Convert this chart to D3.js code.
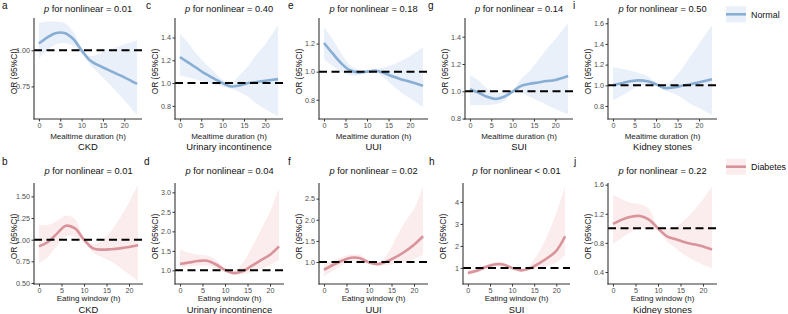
<!DOCTYPE html>
<html><head><meta charset="utf-8">
<script src="https://cdn.jsdelivr.net/npm/d3@7/dist/d3.min.js"></script>
<style>
html,body{margin:0;padding:0;background:#fff;}
svg{display:block;font-family:"Liberation Sans",Arial,sans-serif;}
</style></head>
<body><svg id="chart" width="788" height="314"></svg>
<script>
// ---------- data ----------
const xTop = [0,2,4,6,8,10,12,14,16,18,20,23];
const xBottom = [0,2,4,6,8,10,12,14,16,18,20,22];
const xTicks = [0,5,10,15,20];
const seriesNames = ["Normal","Diabetes"];

// a: CKD, mealtime
const aEst = [1.047,1.09,1.12,1.12,1.08,1.00,0.93,0.895,0.868,0.84,0.813,0.767];
const aLo  = [0.944,1.00,1.04,1.05,1.03,0.98,0.90,0.84,0.78,0.72,0.655,0.55];
const aHi  = [1.19,1.20,1.20,1.19,1.13,1.02,0.96,0.975,1.00,1.02,1.04,1.07];
// c: Urinary incontinence, mealtime
const cEst = [1.229,1.18,1.13,1.08,1.04,1.00,0.97,0.98,1.00,1.01,1.02,1.035];
const cLo  = [1.067,1.05,1.03,1.01,0.99,0.97,0.95,0.92,0.88,0.82,0.77,0.71];
const cHi  = [1.435,1.35,1.25,1.17,1.10,1.03,1.00,1.07,1.15,1.25,1.34,1.51];
// e: UUI, mealtime
const eEst = [1.204,1.13,1.06,1.01,0.995,1.00,1.007,0.99,0.965,0.945,0.928,0.899];
const eLo  = [1.09,1.04,1.00,0.975,0.975,0.99,0.995,0.955,0.90,0.85,0.81,0.745];
const eHi  = [1.32,1.23,1.13,1.05,1.015,1.01,1.02,1.03,1.05,1.08,1.11,1.176];
// g: SUI, mealtime
const gEst = [1.015,0.99,0.96,0.944,0.96,0.997,1.04,1.055,1.065,1.075,1.083,1.112];
const gLo  = [0.90,0.90,0.90,0.905,0.925,0.985,0.99,0.96,0.93,0.90,0.87,0.83];
const gHi  = [1.12,1.08,1.02,0.985,0.995,1.01,1.09,1.15,1.23,1.31,1.38,1.50];
// i: Kidney stones, mealtime
const iEst = [1.00,1.02,1.04,1.048,1.04,1.01,0.974,0.98,0.995,1.01,1.03,1.058];
const iLo  = [0.855,0.90,0.95,0.99,1.00,0.995,0.95,0.92,0.88,0.82,0.78,0.71];
const iHi  = [1.177,1.16,1.14,1.12,1.09,1.025,1.00,1.06,1.16,1.28,1.40,1.58];
// b: CKD, eating window
const bEst = [0.923,0.973,1.07,1.16,1.13,1.00,0.90,0.885,0.89,0.90,0.916,0.935];
const bLo  = [0.73,0.80,0.93,1.04,1.03,0.98,0.85,0.80,0.75,0.68,0.60,0.517];
const bHi  = [1.17,1.17,1.22,1.28,1.24,1.02,0.95,0.99,1.10,1.25,1.43,1.635];
// d: Urinary incontinence, eating window
const dEst = [1.164,1.20,1.24,1.245,1.15,1.01,0.93,0.98,1.12,1.26,1.40,1.615];
const dLo  = [1.08,1.10,1.12,1.12,1.05,0.95,0.88,0.90,0.96,1.04,1.13,1.27];
const dHi  = [1.53,1.45,1.40,1.38,1.27,1.06,0.99,1.20,1.60,2.05,2.50,3.11];
// f: UUI, eating window
const fEst = [0.817,0.93,1.03,1.10,1.09,0.99,0.95,1.015,1.12,1.25,1.41,1.61];
const fLo  = [0.66,0.80,0.93,1.02,1.01,0.97,0.92,0.93,0.96,1.00,1.07,1.17];
const fHi  = [0.94,1.04,1.12,1.18,1.17,1.02,0.98,1.18,1.57,1.95,2.25,2.79];
// h: SUI, eating window
const hEst = [0.77,0.87,1.04,1.16,1.16,1.00,0.89,0.98,1.20,1.45,1.78,2.44];
const hLo  = [0.68,0.78,0.95,1.06,1.06,0.96,0.85,0.90,0.98,1.10,1.25,1.60];
const hHi  = [0.90,0.97,1.13,1.26,1.25,1.04,0.93,1.15,1.70,2.50,3.50,4.70];
// j: Kidney stones, eating window
const jEst = [1.06,1.12,1.16,1.17,1.12,1.00,0.89,0.85,0.81,0.78,0.75,0.71];
const jLo  = [0.78,0.87,0.95,1.00,0.98,0.97,0.82,0.72,0.63,0.56,0.50,0.455];
const jHi  = [1.46,1.40,1.35,1.33,1.27,1.03,1.00,1.02,1.12,1.25,1.40,1.58];

const pLabels = ["= 0.01","= 0.40","= 0.18","= 0.14","= 0.50","= 0.01","= 0.04","= 0.02","< 0.01","= 0.22"];
const outcomes = ["CKD","Urinary incontinence","UUI","SUI","Kidney stones"];
const xTitles = ["Mealtime duration (h)","Eating window (h)"];
const yTitle = "OR (95%CI)";

// ---------- layout ----------
const colors = {
  Normal:   {line:"#89aed4", fill:"#e9f0fa"},
  Diabetes: {line:"#d8949a", fill:"#fbeced"}
};

const panels = [
  {letter:"a", row:0, col:0, est:aEst, lo:aLo, hi:aHi, ydom:[0.524,1.224], yt:[0.75,1.00], fmt:".2f", L:34, R:142, lx:2},
  {letter:"c", row:0, col:1, est:cEst, lo:cLo, hi:cHi, ydom:[0.685,1.571], yt:[0.8,1.0,1.2,1.4], fmt:".1f", L:175, R:283, lx:146},
  {letter:"e", row:0, col:2, est:eEst, lo:eLo, hi:eHi, ydom:[0.663,1.382], yt:[0.8,1.0,1.2], fmt:".1f", L:319, R:428, lx:288},
  {letter:"g", row:0, col:3, est:gEst, lo:gLo, hi:gHi, ydom:[0.797,1.537], yt:[0.8,1.0,1.2,1.4], fmt:".1f", L:465, R:573, lx:428},
  {letter:"i", row:0, col:4, est:iEst, lo:iLo, hi:iHi, ydom:[0.674,1.651], yt:[0.8,1.0,1.2,1.4,1.6], fmt:".1f", L:608, R:717, lx:573},
  {letter:"b", row:1, col:0, est:bEst, lo:bLo, hi:bHi, ydom:[0.488,1.655], yt:[0.5,0.75,1.0,1.25,1.5], fmt:".2f", L:34, R:143, lx:2},
  {letter:"d", row:1, col:1, est:dEst, lo:dLo, hi:dHi, ydom:[0.65,3.24], yt:[1.0,1.5,2.0,2.5,3.0], fmt:".1f", L:175, R:284, lx:144},
  {letter:"f", row:1, col:2, est:fEst, lo:fLo, hi:fHi, ydom:[0.48,2.87], yt:[1.0,1.5,2.0,2.5], fmt:".1f", L:319, R:428, lx:288},
  {letter:"h", row:1, col:3, est:hEst, lo:hLo, hi:hHi, ydom:[0.27,4.86], yt:[1,2,3,4], fmt:"d", L:463, R:570, lx:429},
  {letter:"j", row:1, col:4, est:jEst, lo:jLo, hi:jHi, ydom:[0.235,1.623], yt:[0.4,0.8,1.2,1.6], fmt:".1f", L:608, R:717, lx:574}
];
const rows = [
  {top:18, bottom:119, xs:xTop, xdom:[-1.15,24.15], series:"Normal", letterY:9, titleY:12, xTitleY:138.5, capY:149.5},
  {top:183, bottom:284, xs:xBottom, xdom:[-1.1,23.1], series:"Diabetes", letterY:165, titleY:174, xTitleY:301, capY:312.5}
];

const svg = d3.select("#chart");
const axisColor = "#333";
const tickColor = "#4d4d4d";

panels.forEach((p, k) => {
  const r = rows[p.row];
  const col = colors[r.series];
  const x = d3.scaleLinear().domain(r.xdom).range([p.L, p.R]);
  const y = d3.scaleLinear().domain(p.ydom).range([r.bottom, r.top]);
  const g = svg.append("g");
  const clipId = "clip" + k;
  g.append("clipPath").attr("id", clipId).append("rect")
    .attr("x", p.L).attr("y", r.top).attr("width", p.R - p.L).attr("height", r.bottom - r.top);
  const pts = r.xs.map((xv, i) => ({x:xv, est:p.est[i], lo:p.lo[i], hi:p.hi[i]}));
  const curve = d3.curveCatmullRom.alpha(0.5);
  const area = d3.area().x(d => x(d.x)).y0(d => y(d.lo)).y1(d => y(d.hi)).curve(curve);
  const line = d3.line().x(d => x(d.x)).y(d => y(d.est)).curve(curve);
  const plot = g.append("g").attr("clip-path", `url(#${clipId})`);
  plot.append("path").datum(pts).attr("d", area).attr("fill", col.fill).attr("stroke", "none");
  plot.append("path").datum(pts).attr("d", line).attr("fill", "none")
    .attr("stroke", col.line).attr("stroke-width", 2.6).attr("stroke-linecap", "butt");
  plot.append("line").attr("x1", p.L).attr("x2", p.R).attr("y1", y(1)).attr("y2", y(1))
    .attr("stroke", "#000").attr("stroke-width", 2).attr("stroke-dasharray", "8,4.5");

  // axes
  const yAxis = d3.axisLeft(y).tickValues(p.yt).tickFormat(d3.format(p.fmt)).tickSize(2.5).tickPadding(1.5);
  const ya = g.append("g").attr("transform", `translate(${p.L},0)`).call(yAxis);
  ya.select(".domain").remove();
  ya.selectAll(".tick line").attr("stroke", axisColor).attr("stroke-width", 1);
  ya.selectAll(".tick text").attr("fill", tickColor).attr("font-size", 7.2).attr("font-family", '"Liberation Sans",Arial,sans-serif');
  g.append("line").attr("x1", p.L).attr("x2", p.L).attr("y1", r.top).attr("y2", r.bottom + 0.5)
    .attr("stroke", axisColor).attr("stroke-width", 1.1);

  const xAxis = d3.axisBottom(x).tickValues(xTicks).tickFormat(d3.format("d")).tickSize(2.5).tickPadding(1.2);
  const xa = g.append("g").attr("transform", `translate(0,${r.bottom})`).call(xAxis);
  xa.select(".domain").remove();
  xa.selectAll(".tick line").attr("stroke", axisColor).attr("stroke-width", 1);
  xa.selectAll(".tick text").attr("fill", tickColor).attr("font-size", 7.2).attr("font-family", '"Liberation Sans",Arial,sans-serif');
  g.append("line").attr("x1", p.L - 0.5).attr("x2", p.R).attr("y1", r.bottom).attr("y2", r.bottom)
    .attr("stroke", axisColor).attr("stroke-width", 1.1);

  const cx = (p.L + p.R) / 2;
  // y title
  g.append("text").attr("transform", `translate(${p.L - 17},${(r.top + r.bottom) / 2 + 3}) rotate(-90)`)
    .attr("text-anchor", "middle").attr("font-size", 8.4).attr("fill", "#222").text(yTitle);
  // x title
  g.append("text").attr("x", cx).attr("y", r.xTitleY).attr("text-anchor", "middle")
    .attr("font-size", 8).attr("fill", "#222").text(xTitles[p.row]);
  // caption
  g.append("text").attr("x", cx).attr("y", r.capY).attr("text-anchor", "middle")
    .attr("font-size", 9.4).attr("fill", "#111").text(outcomes[p.col]);
  // title
  const t = g.append("text").attr("x", cx).attr("y", r.titleY).attr("text-anchor", "middle")
    .attr("font-size", 9.3).attr("fill", "#111");
  t.append("tspan").attr("font-style", "italic").text("p");
  t.append("tspan").text(" for nonlinear " + pLabels[k]);
  // letter
  g.append("text").attr("x", p.lx).attr("y", r.letterY).attr("font-size", 10).attr("fill", "#111").text(p.letter);
});

// legends
rows.forEach((r, i) => {
  const col = colors[seriesNames[i]];
  const ly = i === 0 ? 14.3 : 166.7;
  const lg = svg.append("g");
  lg.append("rect").attr("x", 726).attr("y", ly - 8).attr("width", 20).attr("height", 16).attr("fill", col.fill);
  lg.append("line").attr("x1", 726).attr("x2", 746).attr("y1", ly).attr("y2", ly)
    .attr("stroke", col.line).attr("stroke-width", 2.6);
  lg.append("text").attr("x", 751).attr("y", ly + 3.2).attr("font-size", 8.9).attr("fill", "#111").text(seriesNames[i]);
});
</script>
</body></html>
